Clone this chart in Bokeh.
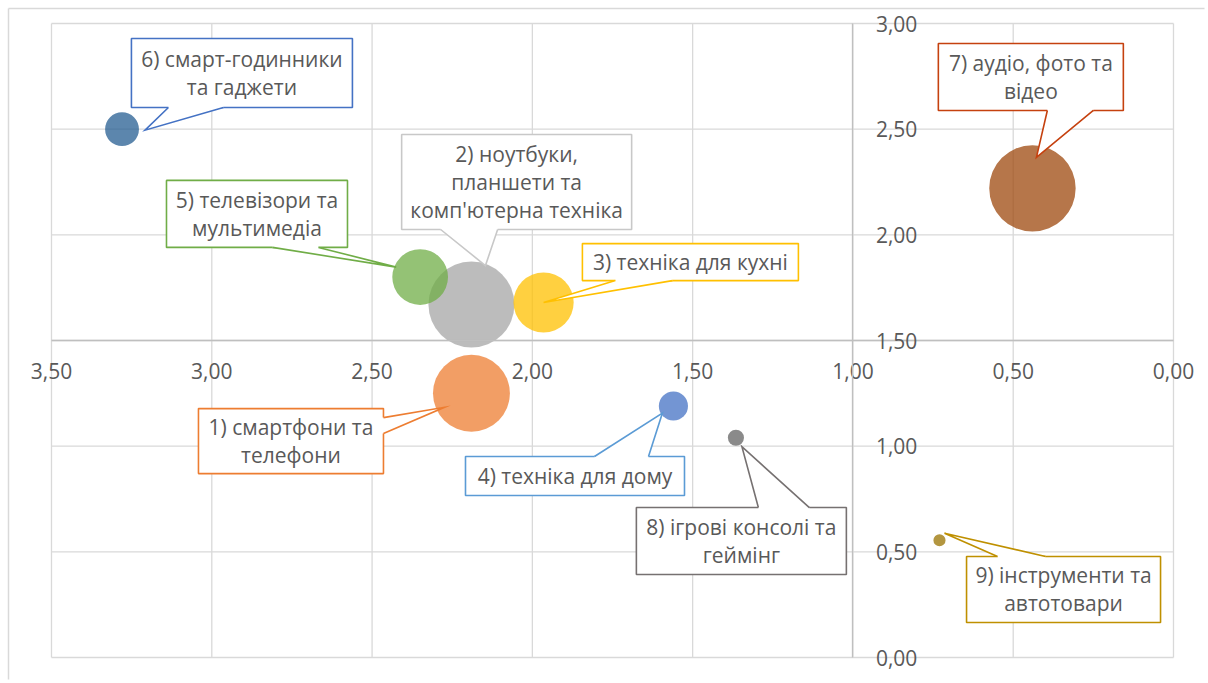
import numpy as np
from bokeh.plotting import figure
from bokeh.models import (Range1d, LinearAxis, FixedTicker, CustomJSTickFormatter)
from bokeh.core.properties import value
from bokeh.embed import file_html
from bokeh.resources import INLINE

# ---------------- data ----------------
categories = [
    "1) смартфони та\nтелефони",
    "2) ноутбуки,\nпланшети та\nкомп'ютерна техніка",
    "3) техніка для кухні",
    "4) техніка для дому",
    "5) телевізори та\nмультимедіа",
    "6) смарт-годинники\nта гаджети",
    "7) аудіо, фото та\nвідео",
    "8) ігрові консолі та\nгеймінг",
    "9) інструменти та\nавтотовари",
]
x_vals = [2.19, 2.19, 1.965, 1.56, 2.35, 3.28, 0.44, 1.365, 0.73]
y_vals = [1.25, 1.67, 1.68, 1.19, 1.80, 2.50, 2.22, 1.04, 0.555]
bubble_vals = [80, 100, 49, 11.5, 42, 15.5, 101, 3.5, 2.0]

x_ticks = [0.0, 0.5, 1.0, 1.5, 2.0, 2.5, 3.0, 3.5]
x_tick_labels = ["0,00", "0,50", "1,00", "1,50", "2,00", "2,50", "3,00", "3,50"]
y_ticks = [0.0, 0.5, 1.0, 1.5, 2.0, 2.5, 3.0]
y_tick_labels = ["0,00", "0,50", "1,00", "1,50", "2,00", "2,50", "3,00"]

# ---------------- styles ----------------
fill_colors = ["#ED7D31", "#A5A5A5", "#FFC000", "#4472C4", "#70AD47",
               "#255E91", "#9E480E", "#636363", "#997300"]
border_colors = ["#ED7D31", "#C8C8C8", "#FFC000", "#5B9BD5", "#70AD47",
                 "#4472C4", "#C5410F", "#767171", "#BF9000"]
FONT = "Open Sans"
TEXT_COLOR = "#595959"
GRID_COLOR = "#D9D9D9"

# ---------------- layout ----------------
W, H = 1208, 683
# plot area (value range 0..3.5 x 0..3) in page pixels
AREA_L, AREA_T, AREA_W, AREA_H = 51, 23, 1122, 634
X_MIN, X_MAX, Y_MIN, Y_MAX = 0.0, 3.5, 0.0, 3.0
PX_X = AREA_W / (X_MAX - X_MIN)
PX_Y = AREA_H / (Y_MAX - Y_MIN)
# drawing frame (larger, so tick labels at the ends are not clipped)
FR_L, FR_T, FR_W, FR_H = 4, 4, 1200, 675
x_start = X_MAX + (AREA_L - FR_L) / PX_X
x_end = X_MIN - (FR_L + FR_W - AREA_L - AREA_W) / PX_X
y_end = Y_MAX + (AREA_T - FR_T) / PX_Y
y_start = Y_MIN - (FR_T + FR_H - AREA_T - AREA_H) / PX_Y
CHART_EDGE = 8  # chart-area border position (px)
MAX_R = 43.0

# callout boxes: centre (data units), size (px)
label_x = [2.753, 2.049, 1.507, 1.867, 2.859, 2.906, 0.445, 1.348, 0.343]
label_y = [1.024, 2.250, 1.871, 0.859, 2.099, 2.766, 2.747, 0.551, 0.322]
box_w = [185, 230, 216, 219, 181, 221, 185, 210, 194]
box_h = [65, 95, 37, 39, 67, 69, 67, 67, 66]
# tail base points (px offsets from box centre, screen y down) and inward normal
tail_b1 = [(92.5, -23.5), (-76, 47.5), (-75, 18.5), (19.5, -19.5), (15.5, 33.5),
           (-73.5, 34.5), (16.5, 33.5), (17, -33.5), (-66, -33)]
tail_b2 = [(92.5, -7.5), (-19, 47.5), (-18, 18.5), (73.5, -19.5), (61.5, 33.5),
           (-18.5, 34.5), (62.5, 33.5), (68, -33.5), (-18, -33)]
tail_in = [(-3, 0), (0, -3), (0, -3), (0, 3), (0, -3), (0, -3), (0, -3), (0, 3), (0, 3)]
# tail apex (px offset from bubble centre)
tail_apex = [(-27, 14), (14, -39), (0, 0), (-11, 7), (-24, -10), (23, 1), (4, -31),
             (6, 9), (5, -7)]


def to_data(cx, cy, dpx, dpy):
    # x axis reversed; screen y grows downward
    return cx - dpx / PX_X, cy - dpy / PX_Y


p = figure(width=W, height=H,
           x_range=Range1d(x_start, x_end), y_range=Range1d(y_start, y_end),
           output_backend="svg", toolbar_location=None,
           x_axis_location=None, y_axis_location=None,
           min_border_left=FR_L, min_border_top=FR_T,
           min_border_right=W - FR_L - FR_W,
           min_border_bottom=H - FR_T - FR_H)
p.outline_line_color = None
p.background_fill_color = "white"
p.border_fill_color = "white"
p.xgrid.visible = False
p.ygrid.visible = False

# chart-area border (left and top edges)
bx = X_MAX + (AREA_L - CHART_EDGE) / PX_X
by = Y_MAX + (AREA_T - CHART_EDGE) / PX_Y
p.segment(x0=[bx, bx], y0=[by, by], x1=[bx, x_end - 1], y1=[y_start - 1, by],
          line_color=GRID_COLOR, line_width=1.5)

# gridlines (also form the plot-area outline)
p.segment(x0=x_ticks, y0=[y_ticks[0]] * len(x_ticks),
          x1=x_ticks, y1=[y_ticks[-1]] * len(x_ticks),
          line_color=GRID_COLOR, line_width=1.3)
p.segment(x0=[x_ticks[0]] * len(y_ticks), y0=y_ticks,
          x1=[x_ticks[-1]] * len(y_ticks), y1=y_ticks,
          line_color=GRID_COLOR, line_width=1.3)

fmt_code = ("const i = tv.findIndex(t => Math.abs(t - tick) < 1e-9);"
            "return i >= 0 ? tl[i] : '';")

common = dict(axis_line_color="#BFBFBF", axis_line_width=1.3,
              major_tick_line_color=None, minor_tick_line_color=None,
              major_tick_in=0, major_tick_out=0, minor_tick_in=0, minor_tick_out=0,
              major_label_text_font=FONT, major_label_text_font_size="21px",
              major_label_text_color=TEXT_COLOR)

xaxis = LinearAxis(fixed_location=1.5, bounds=(x_ticks[0], x_ticks[-1]),
                   ticker=FixedTicker(ticks=x_ticks),
                   formatter=CustomJSTickFormatter(args=dict(tv=x_ticks, tl=x_tick_labels), code=fmt_code),
                   major_label_standoff=22, **common)
p.add_layout(xaxis, "below")

yaxis = LinearAxis(fixed_location=1.0, bounds=(y_ticks[0], y_ticks[-1]),
                   ticker=FixedTicker(ticks=y_ticks),
                   formatter=CustomJSTickFormatter(args=dict(tv=y_ticks, tl=y_tick_labels), code=fmt_code),
                   major_label_standoff=23, **common)
p.add_layout(yaxis, "right")

# bubbles
sizes = 2 * MAX_R * np.sqrt(np.array(bubble_vals) / 100.0)
p.scatter(x=x_vals, y=y_vals, size=sizes, marker="circle",
          fill_color=fill_colors, fill_alpha=0.75, line_color=None)

# callouts
fill_xs, fill_ys, line_xs, line_ys = [], [], [], []
for i in range(len(categories)):
    cx, cy = label_x[i], label_y[i]
    b1, b2, nin = tail_b1[i], tail_b2[i], tail_in[i]
    ax, ay = to_data(x_vals[i], y_vals[i], *tail_apex[i])
    p1 = to_data(cx, cy, *b1)
    p2 = to_data(cx, cy, *b2)
    p1i = to_data(cx, cy, b1[0] + nin[0], b1[1] + nin[1])
    p2i = to_data(cx, cy, b2[0] + nin[0], b2[1] + nin[1])
    fill_xs.append([p1i[0], p1[0], ax, p2[0], p2i[0]])
    fill_ys.append([p1i[1], p1[1], ay, p2[1], p2i[1]])
    line_xs.append([p1[0], ax, p2[0]])
    line_ys.append([p1[1], ay, p2[1]])

p.rect(x=label_x, y=label_y, width=box_w, height=box_h,
       width_units="screen", height_units="screen",
       fill_color="white", line_color=border_colors, line_width=1.6)
p.patches(xs=fill_xs, ys=fill_ys, fill_color="white", line_color=None)
p.multi_line(xs=line_xs, ys=line_ys, line_color=border_colors, line_width=1.6,
             line_join="miter")
p.text(x=label_x, y=label_y, text=categories, text_align="center",
       text_baseline="middle", text_font=value(FONT), text_font_size="21px",
       text_color=TEXT_COLOR, text_line_height=1.0)

open("out.html", "w").write(file_html(p, INLINE))
